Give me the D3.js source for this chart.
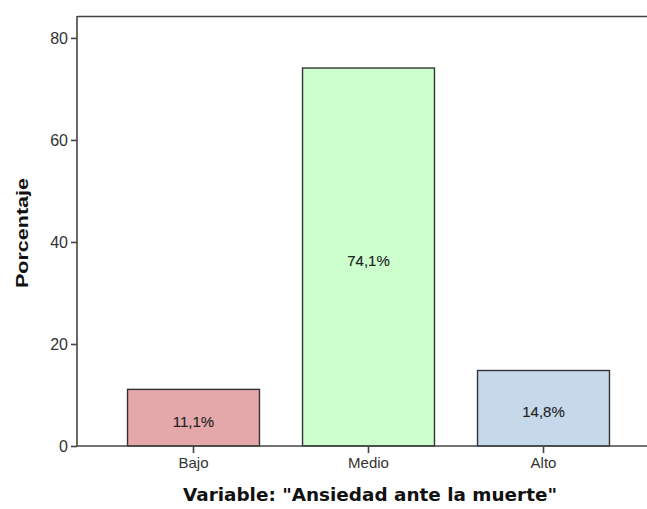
<!DOCTYPE html>
<html>
<head>
<meta charset="utf-8">
<script src="https://cdn.jsdelivr.net/npm/d3@7"></script>
<style>
  body { margin: 0; background: #fff; }
  svg { display: block; }
</style>
</head>
<body>
<div id="chart"></div>
<script>
"use strict";

// Data
const categories = ["Bajo", "Medio", "Alto"];
const percentages = [11.1, 74.1, 14.8];
const valueLabels = ["11,1%", "74,1%", "14,8%"];
const barColors = ["#e4a7aa", "#ccffcc", "#c6d9eb"];
const yTicks = [0, 20, 40, 60, 80];

const width = 647, height = 509;

// Plot frame (right side runs off the picture)
let margin = {top: 16, right: 0, bottom: 63, left: 77};

let svg = d3.select("#chart")
  .append("svg")
  .attr("width", width)
  .attr("height", height);

let yScale = d3.scaleLinear()
  .domain([0, 84.3])
  .range([height - margin.bottom, margin.top]);

let xScale = d3.scaleBand()
  .domain(categories)
  .range([106, 631])
  .paddingInner(0.246)
  .paddingOuter(0.123);

let baseY = yScale(0);

// frame: top line and baseline reaching the right edge
svg.append("line")
  .attr("x1", margin.left).attr("x2", width)
  .attr("y1", margin.top + 0.5).attr("y2", margin.top + 0.5)
  .attr("stroke", "#444").attr("stroke-width", 1.6);

// Bars
svg.selectAll(".bar")
  .data(percentages)
  .enter()
  .append("rect")
  .attr("class", "bar")
  .attr("x", (d, i) => xScale(categories[i]))
  .attr("y", d => yScale(d))
  .attr("width", xScale.bandwidth())
  .attr("height", d => baseY - yScale(d))
  .attr("fill", (d, i) => barColors[i])
  .attr("stroke", "#333")
  .attr("stroke-width", 1.4);

// Value labels in the middle of the bars
svg.selectAll(".valueLabel")
  .data(percentages)
  .enter()
  .append("text")
  .attr("class", "valueLabel")
  .attr("x", (d, i) => xScale(categories[i]) + xScale.bandwidth() / 2)
  .attr("y", d => (yScale(d) + baseY) / 2 + 9)
  .attr("text-anchor", "middle")
  .style("font-family", "Liberation Sans, Arial, sans-serif")
  .style("font-size", "15px")
  .style("fill", "#222")
  .style("stroke", "#222")
  .style("stroke-width", 0.12)
  .text((d, i) => valueLabels[i]);

// Y axis
let yAxis = d3.axisLeft(yScale)
  .tickValues(yTicks)
  .tickSize(8)
  .tickPadding(2)
  .tickFormat(d3.format("d"));

let yG = svg.append("g")
  .attr("class", "yAxis")
  .attr("transform", `translate(${margin.left},0)`)
  .call(yAxis);
yG.select(".domain").remove();
yG.append("line")
  .attr("x1", 0).attr("x2", 0)
  .attr("y1", margin.top).attr("y2", baseY)
  .attr("stroke", "#444").attr("stroke-width", 1.6);
yG.selectAll(".tick line").attr("stroke", "#444").attr("stroke-width", 1.6)
  .attr("x2", -6);
yG.selectAll(".tick text")
  .attr("x", -9)
  .style("font-family", "Liberation Sans, Arial, sans-serif")
  .style("font-size", "16px")
  .style("fill", "#333");

// X axis
let xAxis = d3.axisBottom(xScale)
  .tickSize(7)
  .tickPadding(4);

let xG = svg.append("g")
  .attr("class", "xAxis")
  .attr("transform", `translate(0,${baseY})`)
  .call(xAxis);
xG.select(".domain").remove();
xG.append("line")
  .attr("x1", margin.left).attr("x2", width)
  .attr("y1", 0).attr("y2", 0)
  .attr("stroke", "#444").attr("stroke-width", 1.6);
xG.selectAll(".tick line").attr("stroke", "#444").attr("stroke-width", 1.6);
xG.selectAll(".tick text")
  .style("font-family", "Liberation Sans, Arial, sans-serif")
  .style("font-size", "15px")
  .style("fill", "#333");

// Axis titles
svg.append("text")
  .attr("text-anchor", "middle")
  .attr("transform", "translate(28,233)rotate(-90)")
  .attr("textLength", 110)
  .attr("lengthAdjust", "spacingAndGlyphs")
  .style("font-family", "Liberation Sans, Arial, sans-serif")
  .style("font-weight", "bold")
  .style("font-size", "17px")
  .style("fill", "#111")
  .text("Porcentaje");

svg.append("text")
  .attr("text-anchor", "middle")
  .attr("x", 370)
  .attr("y", 501)
  .attr("textLength", 374)
  .attr("lengthAdjust", "spacingAndGlyphs")
  .style("font-family", "DejaVu Sans, sans-serif")
  .style("font-weight", "bold")
  .style("font-size", "17px")
  .style("fill", "#111")
  .text("Variable: \"Ansiedad ante la muerte\"");
</script>
</body>
</html>
